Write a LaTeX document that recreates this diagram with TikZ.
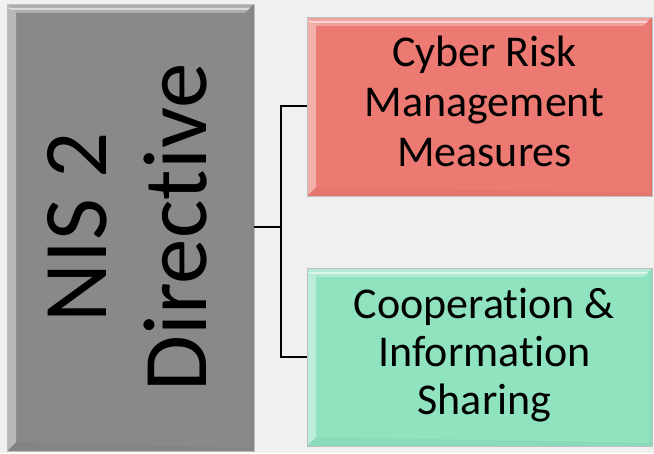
\documentclass[tikz,border=0pt]{standalone}
\usepackage{fontspec}
\setmainfont[Ligatures={NoCommon,NoContextual}]{Carlito}
\usepackage{tikz}
\usetikzlibrary{calc,positioning}
\definecolor{bgcol}{HTML}{F0F0F0}
\definecolor{nisgray}{HTML}{898989}
\definecolor{riskred}{HTML}{EC7A72}
\definecolor{coopgreen}{HTML}{8FE3BF}
\newcommand{\boxtext}[1]{\hspace*{10pt}\begin{tabular}{@{}c@{}}#1\end{tabular}}

\begin{document}
\begin{tikzpicture}[x=1pt,y=1pt,
  bevel/.style={draw=black!25,line width=0.6pt,inner sep=0pt,
    path picture={
      \coordinate (nw) at (path picture bounding box.north west);
      \coordinate (ne) at (path picture bounding box.north east);
      \coordinate (sw) at (path picture bounding box.south west);
      \coordinate (se) at (path picture bounding box.south east);
      \fill[white,opacity=0.3] (nw) -- (ne) -- ($(ne)+(-9,-9)$) -- ($(nw)+(9,-9)$) -- cycle;
      \fill[white,opacity=0.55] ($(nw)+(0,-4)$) -- ($(ne)+(-4,-4)$) -- ($(ne)+(-6,-6)$) -- ($(nw)+(6,-6)$) -- cycle;
      \fill[white,opacity=0.4] (nw) -- ($(nw)+(9,-9)$) -- ($(sw)+(9,9)$) -- (sw) -- cycle;
      \fill[black,opacity=0.03] (sw) -- ($(sw)+(9,9)$) -- ($(se)+(-3,3)$) -- (se) -- cycle;
      \fill[black,opacity=0.03] (ne) -- ($(ne)+(-3,-3)$) -- ($(se)+(-3,3)$) -- (se) -- cycle;
    }},
  link/.style={line width=2pt}]
\pgfmathsetmacro{\fork}{281}
\fill[bgcol] (0,0) rectangle (654,453);
\useasboundingbox (0,0) rectangle (654,453);
% boxes
\node[bevel,fill=nisgray,minimum width=247,minimum height=447,
  font=\fontsize{91}{100}\selectfont] (nis) at (130.5,225.5)
  {\hspace*{12pt}\rotatebox{90}{\begin{tabular}{@{}c@{}}NIS 2\\Directive\end{tabular}}};
\node[bevel,fill=riskred,minimum width=345,minimum height=179,
  font=\fontsize{44}{50}\selectfont] (risk) at (479.5,346.5)
  {\boxtext{Cyber Risk\\Management\\Measures}};
\node[bevel,fill=coopgreen,minimum width=345,minimum height=178,
  font=\fontsize{44}{48}\selectfont] (coop) at (479.5,96)
  {\boxtext{Cooperation \&\\Information\\Sharing}};
% connectors
\coordinate (split) at (\fork,226);
\draw[link] (nis.east |- split) -- (split);
\draw[link] (split) |- (risk.west);
\draw[link] (split) |- (coop.west);
\end{tikzpicture}
\end{document}
